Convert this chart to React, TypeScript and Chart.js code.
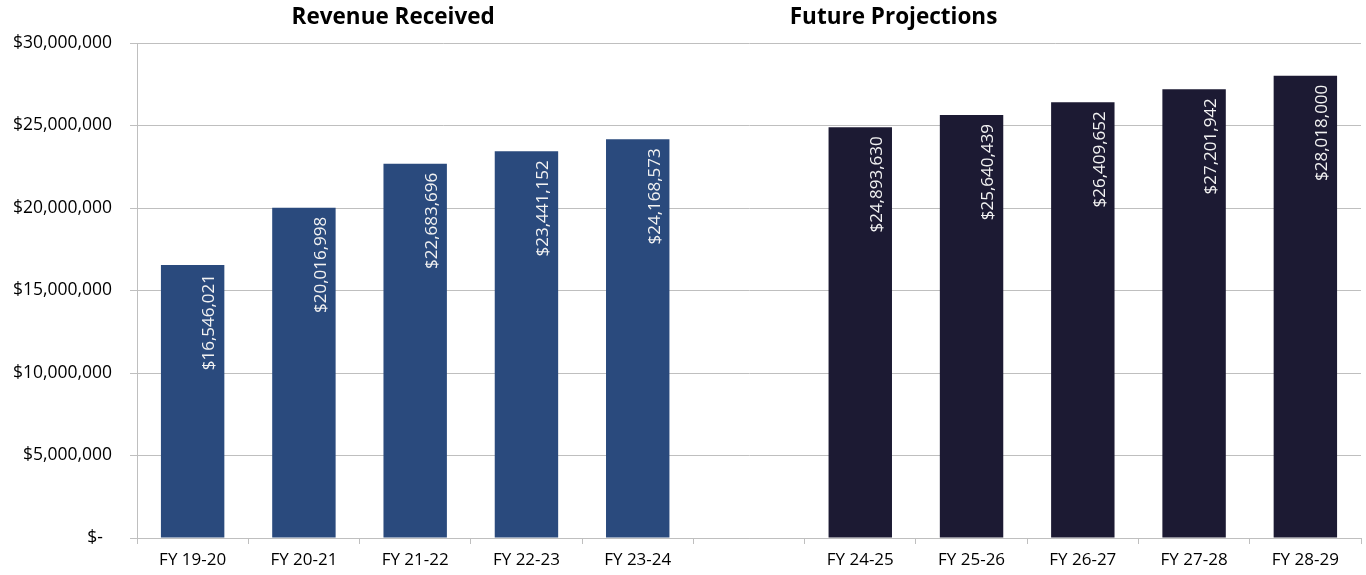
import React, { useEffect, useRef } from "react";
import { Chart, registerables } from "chart.js";

Chart.register(...registerables);

const receivedCategories = ["FY 19-20", "FY 20-21", "FY 21-22", "FY 22-23", "FY 23-24"];
const projectedCategories = ["FY 24-25", "FY 25-26", "FY 26-27", "FY 27-28", "FY 28-29"];
const receivedValues = [16546021, 20016998, 22683696, 23441152, 24168573];
const projectedValues = [24893630, 25640439, 26409652, 27201942, 28018000];
const yTicks = [0, 5000000, 10000000, 15000000, 20000000, 25000000, 30000000];
const groupTitles = ["Revenue Received", "Future Projections"];

const RECEIVED_COLOR = "#2A4A7D";
const PROJECTED_COLOR = "#1C1A33";
const FONT = "'Open Sans', sans-serif";

const fmt = (v: number) => "$" + Math.round(v).toLocaleString("en-US");

export default function App() {
  const ref = useRef<HTMLCanvasElement | null>(null);

  useEffect(() => {
    document.body.style.margin = "0";
    const labels = [...receivedCategories, "", ...projectedCategories];
    const data: (number | null)[] = [...receivedValues, null, ...projectedValues];
    const colors = [
      ...receivedValues.map(() => RECEIVED_COLOR),
      "rgba(0,0,0,0)",
      ...projectedValues.map(() => PROJECTED_COLOR),
    ];

    const labelPlugin = {
      id: "barLabels",
      afterDatasetsDraw(chart: any) {
        const ctx = chart.ctx;
        const meta = chart.getDatasetMeta(0);
        ctx.save();
        ctx.font = `17px ${FONT}`;
        ctx.fillStyle = "#F2F2F2";
        meta.data.forEach((bar: any, i: number) => {
          const v = data[i];
          if (v == null) return;
          ctx.save();
          ctx.translate(bar.x + 17, bar.y + 9);
          ctx.rotate(-Math.PI / 2);
          ctx.textAlign = "right";
          ctx.textBaseline = "middle";
          ctx.fillText(fmt(v), 0, 0);
          ctx.restore();
        });
        ctx.restore();
      },
      afterDraw(chart: any) {
        const ctx = chart.ctx;
        const xs = chart.scales.x;
        ctx.save();
        ctx.font = `bold 22.5px ${FONT}`;
        ctx.fillStyle = "#000000";
        ctx.textAlign = "center";
        ctx.textBaseline = "middle";
        const c1 = xs.getPixelForValue(2) - 22;
        const c2 = xs.getPixelForValue(7) - 78;
        ctx.fillText(groupTitles[0], c1, 18);
        ctx.fillText(groupTitles[1], c2, 18);
        ctx.restore();
      },
    };

    const chart = new Chart(ref.current as HTMLCanvasElement, {
      type: "bar",
      data: {
        labels,
        datasets: [
          {
            data,
            backgroundColor: colors,
            barPercentage: 0.57,
            categoryPercentage: 1,
          },
        ],
      },
      options: {
        animation: false,
        responsive: true,
        maintainAspectRatio: false,
        layout: { padding: { top: 43, right: 5, left: 0, bottom: 0 } },
        plugins: {
          legend: { display: false },
          tooltip: { enabled: false },
          title: { display: false },
        },
        scales: {
          x: {
            grid: {
              display: true,
              drawOnChartArea: false,
              drawTicks: true,
              tickLength: 6,
              color: "#BFBFBF",
              offset: true,
            },
            border: { display: true, color: "#BFBFBF" },
            ticks: {
              font: { family: FONT, size: 17 },
              color: "#000000",
              padding: 6,
              maxRotation: 0,
              autoSkip: false,
            },
            afterFit(axis: any) {
              axis.height = 37;
            },
          },
          y: {
            min: 0,
            max: 30000000,
            afterBuildTicks(axis: any) {
              axis.ticks = yTicks.map((v) => ({ value: v }));
            },
            grid: {
              color: "#BFBFBF",
              tickLength: 7,
              drawTicks: true,
            },
            border: { display: true, color: "#BFBFBF" },
            ticks: {
              font: { family: FONT, size: 17.5 },
              color: "#000000",
              padding: 18,
              callback: (v: any) => (Number(v) === 0 ? "$-  " : fmt(Number(v))),
            },
            afterFit(axis: any) {
              axis.width = 137;
            },
          },
        },
      },
      plugins: [labelPlugin],
    });
    return () => chart.destroy();
  }, []);

  return (
    <div style={{ position: "absolute", left: 0, top: 0, width: 1366, height: 575 }}>
      <canvas ref={ref} />
    </div>
  );
}
